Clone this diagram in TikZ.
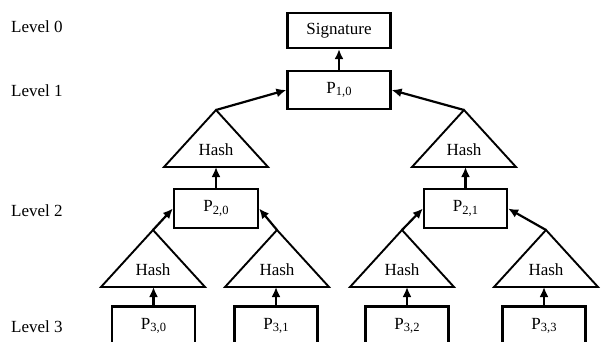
\documentclass[tikz,border=0pt]{standalone}
\usepackage{fontspec}
\setmainfont{Liberation Serif}
\usetikzlibrary{arrows.meta}
\newcommand\psub[1]{P\raisebox{-0.35ex}{\fontsize{12.5}{13}\selectfont #1}}
\tikzset{
  pbox/.style={draw, line width=2.2pt, minimum width=83pt, minimum height=39pt, inner sep=0pt},
  lvl/.style={anchor=west, inner sep=0pt},
  arr/.style={line width=2.2pt, -{Latex[length=10pt,width=9pt]}},
  hashtri/.pic={
    \draw[line width=1.9pt, line join=miter] (0,0) -- (-52,57) -- (52,57) -- cycle;
    \coordinate (-apex) at (0,0);
    \coordinate (-base) at (0,57);
    \node[inner sep=0pt] (-txt) at (0,40) {Hash};
  }
}
\begin{document}
\begin{tikzpicture}[x=1pt,y=-1pt,font=\fontsize{17}{20}\selectfont]
\useasboundingbox (0,0) rectangle (607,342);
\clip (0,0) rectangle (607,342);
% level labels
\node[lvl] (l0) at (11,27) {Level 0};
\node[lvl] (l1) at (11,91) {Level 1};
\node[lvl] (l2) at (11,211) {Level 2};
\node[lvl] (l3) at (11,327) {Level 3};
% boxes
\node[pbox, minimum width=103pt, minimum height=35pt] (sig) at (339,30.5) {Signature};
\node[pbox, minimum width=103pt, minimum height=38pt] (p10) at (339,90) {\psub{1,0}};
\node[pbox, minimum width=84pt] (p20) at (216,208.5) {\psub{2,0}};
\node[pbox] (p21) at (465.5,208.5) {\psub{2,1}};
\node[pbox] (p30) at (153.5,326) {\psub{3,0}};
\node[pbox] (p31) at (276,326) {\psub{3,1}};
\node[pbox] (p32) at (407,326) {\psub{3,2}};
\node[pbox] (p33) at (544,326) {\psub{3,3}};
% hash triangles
\pic (h1l) at (216,110) {hashtri};
\pic (h1r) at (464,110) {hashtri};
\pic (h20) at (153,230) {hashtri};
\pic (h21) at (277,230) {hashtri};
\pic (h22) at (402,230) {hashtri};
\pic (h23) at (546,230) {hashtri};
% arrows
\draw[arr] (p10.north) -- (sig.south);
\draw[arr] (h1l-apex) -- (p10.west);
\draw[arr] (h1r-apex) -- (p10.east);
\draw[arr] (p20.north) -- (h1l-base);
\draw[arr] (p21.north) -- (p21.north |- h1r-base);
\draw[arr] (h20-apex) -- (p20.west);
\draw[arr] (h21-apex) -- (p20.east);
\draw[arr] (h22-apex) -- (p21.west);
\draw[arr] (h23-apex) -- (p21.east);
\draw[arr] (p30.north) -- (p30.north |- h20-base);
\draw[arr] (p31.north) -- (p31.north |- h21-base);
\draw[arr] (p32.north) -- (p32.north |- h22-base);
\draw[arr] (p33.north) -- (p33.north |- h23-base);
\end{tikzpicture}
\end{document}
